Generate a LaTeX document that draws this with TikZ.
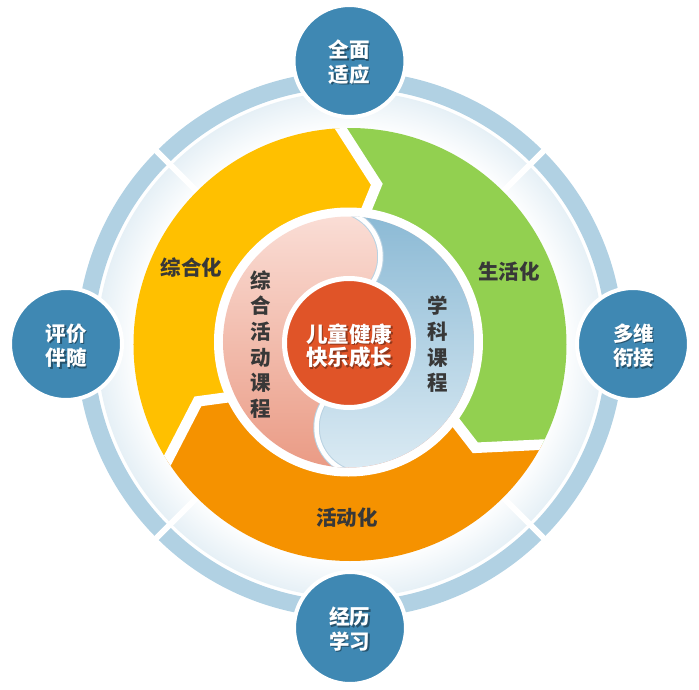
\documentclass[tikz,border=0pt]{standalone}
\usepackage{fontspec}
\newfontfamily\cjk{Noto Sans CJK SC}
\usetikzlibrary{calc}
\definecolor{ringY}{HTML}{FFC000}
\definecolor{ringG}{HTML}{92D050}
\definecolor{ringO}{HTML}{F59200}
\definecolor{satB}{HTML}{3F88B3}
\definecolor{bandB}{HTML}{B1D1E3}
\definecolor{bandL}{HTML}{E6F0F6}
\definecolor{redC}{HTML}{E05428}
\definecolor{txtD}{HTML}{383838}
\definecolor{pinkT}{HTML}{FADDD5}
\definecolor{pinkM}{HTML}{F6D0C5}
\definecolor{pinkB}{HTML}{EA9B85}
\definecolor{blueT}{HTML}{8CBAD5}
\definecolor{blueM}{HTML}{BDD8E8}
\definecolor{blueB}{HTML}{DAEAF3}
\definecolor{divE}{HTML}{B9D2E2}
\pgfdeclareradialshading{bandshade}{\pgfpoint{0bp}{0bp}}{color(0bp)=(white); color(21bp)=(white); color(25bp)=(bandL); color(50bp)=(bandL)}
\begin{document}
\begin{tikzpicture}[x=1pt,y=1pt,
  sat/.style={circle, fill=satB, draw=white, line width=4, minimum size=112, inner sep=0},
  sattxt/.style={font=\cjk\bfseries\fontsize{20.5}{24.5}\selectfont, text=white, align=center, inner sep=0},
  sattxtsh/.style={font=\cjk\bfseries\fontsize{20.5}{24.5}\selectfont, text=black, opacity=0.4, align=center, inner sep=0},
  coretxt/.style={font=\cjk\bfseries\fontsize{21.5}{23.5}\selectfont, text=white, align=center, inner sep=0},
  coretxtsh/.style={font=\cjk\bfseries\fontsize{21.5}{23.5}\selectfont, text=black, opacity=0.35, align=center, inner sep=0},
  seglabel/.style={font=\cjk\bfseries\fontsize{20.5}{24}\selectfont, text=txtD, inner sep=0},
  vlabel/.style={font=\cjk\bfseries\fontsize{20.5}{25.7}\selectfont, text=txtD, align=center, inner sep=0},
  gapline/.style={white, line width=10.5, line join=miter}
]
\useasboundingbox (-350,-344.5) rectangle (349,344.5);

% outer light band and blue band
\shade[shading=bandshade] (0,0) circle (253);
\draw[bandB, line width=17] (0,0) circle (265);
\foreach \a in {45,135,225,315} \draw[white, line width=6] (\a:200) -- (\a:280);

% satellites
\node[sat] (s1) at (-0.5,283.5) {};
\node[sat] (s2) at (283,0.5) {};
\node[sat] (s3) at (0,-283.5) {};
\node[sat] (s4) at (-284,0.5) {};

% chevron points
\coordinate (tA) at (80.5:162.4);  \coordinate (oA) at (92.45:216.5);  \coordinate (iA) at (83.15:135);
\coordinate (tB) at (200.5:162.4); \coordinate (oB) at (212.45:216.5); \coordinate (iB) at (203.15:135);
\coordinate (tC) at (320.5:162.4); \coordinate (oC) at (332.45:216.5); \coordinate (iC) at (323.15:135);
\coordinate (oAx) at ($(tA)!1.7!(oA)$); \coordinate (iAx) at ($(tA)!2.2!(iA)$);
\coordinate (oBx) at ($(tB)!1.7!(oB)$); \coordinate (iBx) at ($(tB)!2.2!(iB)$);
\coordinate (oCx) at ($(tC)!1.7!(oC)$); \coordinate (iCx) at ($(tC)!2.2!(iC)$);

% ring segments
\begin{scope}
  \clip (0,0) circle (216.5);
  \fill[ringY] (92.5:330) arc[start angle=92.5, end angle=212.5, radius=330] -- (oBx) -- (tB) -- (iBx) -- (0,0) -- (iAx) -- (tA) -- (oAx) -- cycle;
  \fill[ringG] (-27.5:330) arc[start angle=-27.5, end angle=92.5, radius=330] -- (oAx) -- (tA) -- (iAx) -- (0,0) -- (iCx) -- (tC) -- (oCx) -- cycle;
  \fill[ringO] (212.5:330) arc[start angle=212.5, end angle=332.5, radius=330] -- (oCx) -- (tC) -- (iCx) -- (0,0) -- (iBx) -- (tB) -- (oBx) -- cycle;
  \draw[gapline] (oAx) -- (tA) -- (iAx);
  \draw[gapline] (oBx) -- (tB) -- (iBx);
  \draw[gapline] (oCx) -- (tC) -- (iCx);
\end{scope}

% inner disc
\begin{scope}[shift={(-1.5,2.5)}]
  \fill[white] (0,0) circle (134.5);
  \begin{scope}
    \clip (0,0) circle (125.5);
    \shade[top color=pinkT, middle color=pinkM, bottom color=pinkB] (-125.5,-125.5) rectangle (125.5,125.5);
    \begin{scope}
      \clip (24.5,60) arc[start angle=-32.9, end angle=72, radius=46.8] -- (-0.3,200) -- (200,200) -- (200,-200) -- (0.3,-200) -- (0.3,-129.9) arc[start angle=252, end angle=147.1, radius=46.8] -- cycle;
      \shade[top color=blueT, middle color=blueM, bottom color=blueB] (-125.5,-125.5) rectangle (125.5,125.5);
    \end{scope}
    \draw[divE, line width=6.5] (24.5,60) arc[start angle=-32.9, end angle=72, radius=46.8];
    \draw[white, line width=4.5] (24.5,60) arc[start angle=-32.9, end angle=72, radius=46.8];
    \draw[divE, line width=6.5] (-24.5,-60) arc[start angle=147.1, end angle=252, radius=46.8];
    \draw[white, line width=4.5] (-24.5,-60) arc[start angle=147.1, end angle=252, radius=46.8];
  \end{scope}
\end{scope}

% core
\node[circle, fill=redC, draw=white, line width=5, minimum size=129, inner sep=0] (core) at (-1,1.5) {};

% texts
\node[coretxtsh] (ctsh) at (0.7,-2.6) {儿童健康\\快乐成长};
\node[coretxt] (ct) at (-0.5,-1.2) {儿童健康\\快乐成长};

\node[sattxtsh] (t1s) at (0.7,281) {全面\\适应};
\node[sattxt] (t1) at (-0.5,282.5) {全面\\适应};
\node[sattxtsh] (t2s) at (284.7,-2.5) {多维\\衔接};
\node[sattxt] (t2) at (283.5,-1) {多维\\衔接};
\node[sattxtsh] (t3s) at (1.2,-286) {经历\\学习};
\node[sattxt] (t3) at (0,-284.5) {经历\\学习};
\node[sattxtsh] (t4s) at (-282.3,-2.5) {评价\\伴随};
\node[sattxt] (t4) at (-283.5,-1) {评价\\伴随};

\node[seglabel] (lY) at (-158.5,77) {综合化};
\node[seglabel] (lG) at (159,72.5) {生活化};
\node[seglabel] (lO) at (-3,-173) {活动化};

\node[vlabel] (vP) at (-89,0) {综\\合\\活\\动\\课\\程};
\node[vlabel] (vB) at (87.5,0) {学\\科\\课\\程};
\end{tikzpicture}
\end{document}
